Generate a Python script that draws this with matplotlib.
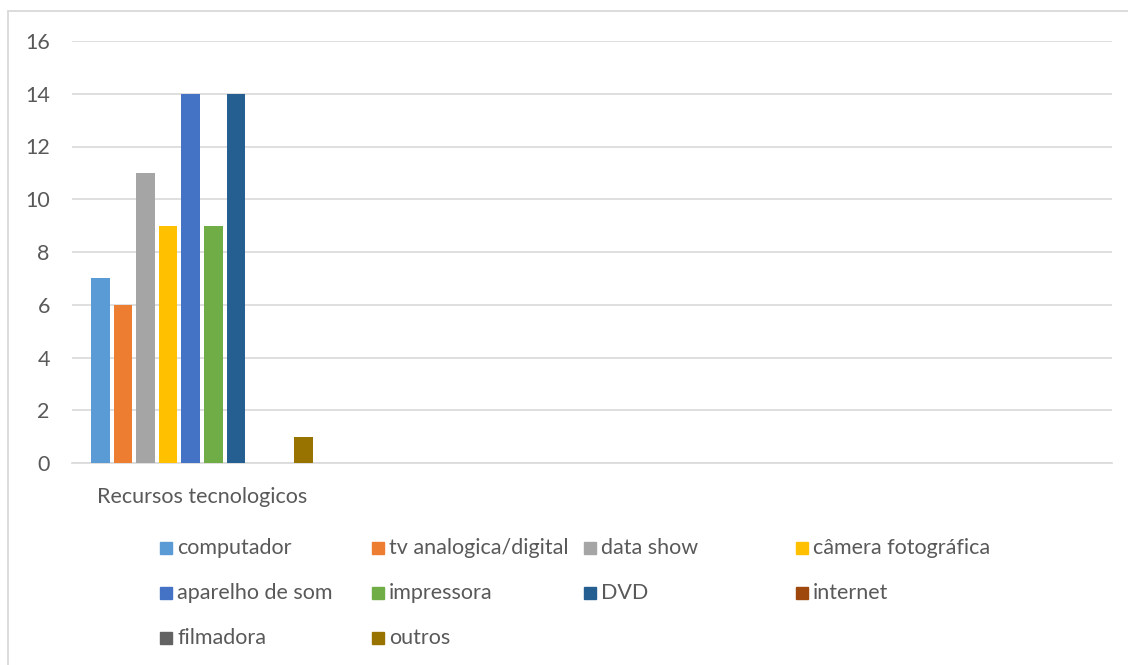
import matplotlib
matplotlib.use("Agg")
from matplotlib import pyplot as plt
from matplotlib.patches import Rectangle

# data
category = ["Recursos tecnologicos"]
series = ["computador", "tv analogica/digital", "data show", "câmera fotográfica",
          "aparelho de som", "impressora", "DVD", "internet",
          "filmadora", "outros"]
values = [7, 6, 11, 9, 14, 9, 14, 0, 0, 1]
colors = ["#5b9bd5", "#ed7d31", "#a5a5a5", "#ffc000", "#4472c4",
          "#70ad47", "#255e91", "#9e480e", "#636363", "#997300"]
yticks = [0, 2, 4, 6, 8, 10, 12, 14, 16]

plt.rcParams['font.family'] = ['Lato', 'DejaVu Sans']
text_col = "#595959"
grid_col = "#d9d9d9"
fsize = 15.5

W, H = 1128, 665
fig = plt.figure(figsize=(W / 100, H / 100), dpi=100)

# chart area border
fig.patches.append(Rectangle((8 / W, -0.05), 1.1, 1 - 11 / H + 0.05,
                             transform=fig.transFigure, fill=False,
                             edgecolor=grid_col, linewidth=1.3))

ax = fig.add_axes([72 / W, 1 - 463 / H, (1112 - 72) / W, (463 - 41) / H])

pitch = 0.0869
width = 0.071
for i, (name, v, c) in enumerate(zip(series, values, colors)):
    ax.bar(0 + (i - 4.5) * pitch, v, width=width, color=c, label=name, zorder=3)

ax.set_xlim(-0.5, 3.5)
ax.set_ylim(0, 16)
ax.set_yticks(yticks)
ax.set_xticks([0])
ax.set_xticklabels(category)
ax.tick_params(axis='both', length=0, labelsize=fsize, colors=text_col)
ax.tick_params(axis='y', pad=16)
ax.tick_params(axis='x', pad=17)
ax.grid(axis='y', color=grid_col, linewidth=1.2, zorder=0)
for s in ['top', 'right', 'left']:
    ax.spines[s].set_visible(False)
ax.spines['bottom'].set_color(grid_col)
ax.spines['bottom'].set_linewidth(1.2)

# legend, laid out as in the reference (4 columns x 3 rows)
col_x = [160, 372, 584, 796]
row_y = [548, 593, 638]
sq = 12
for i, (name, c) in enumerate(zip(series, colors)):
    x = col_x[i % 4]
    y = row_y[i // 4]
    fig.patches.append(Rectangle((x / W, 1 - (y + sq / 2) / H), sq / W, sq / H,
                                 transform=fig.transFigure, color=c))
    fig.text((x + sq + 5) / W, 1 - y / H, name, color=text_col,
             fontsize=fsize, va='center', ha='left')

fig.savefig("out.png", dpi=100)
